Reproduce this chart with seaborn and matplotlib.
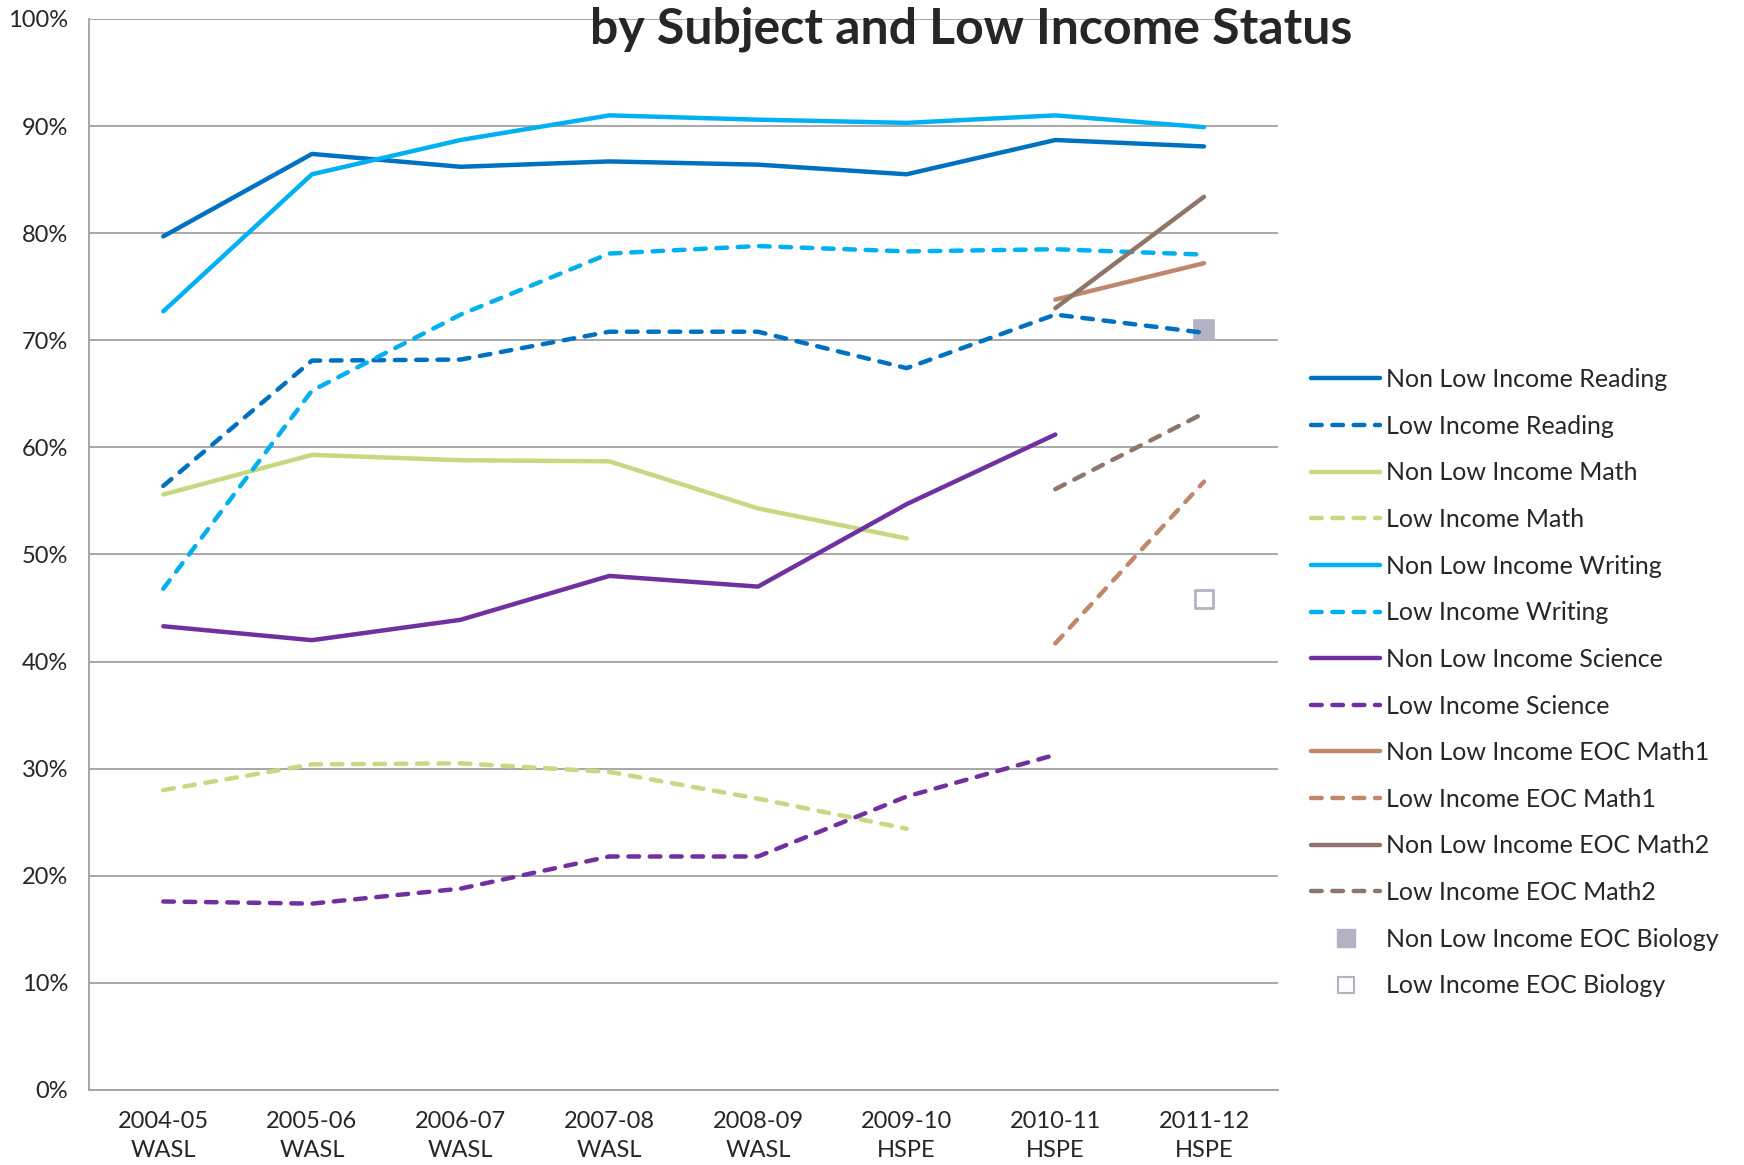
import numpy as np
import pandas as pd
import matplotlib.pyplot as plt
import seaborn as sns
from matplotlib.lines import Line2D

# --- data ---
years = ['2004-05\nWASL', '2005-06\nWASL', '2006-07\nWASL', '2007-08\nWASL',
         '2008-09\nWASL', '2009-10\nHSPE', '2010-11\nHSPE', '2011-12\nHSPE']
nan = np.nan

non_low_reading = [79.7, 87.4, 86.2, 86.7, 86.4, 85.5, 88.7, 88.1]
low_reading = [56.4, 68.1, 68.2, 70.8, 70.8, 67.4, 72.4, 70.7]
non_low_math = [55.6, 59.3, 58.8, 58.7, 54.3, 51.5, nan, nan]
low_math = [28.0, 30.4, 30.5, 29.7, 27.2, 24.4, nan, nan]
non_low_writing = [72.7, 85.5, 88.7, 91.0, 90.6, 90.3, 91.0, 89.9]
low_writing = [46.8, 65.3, 72.4, 78.1, 78.8, 78.3, 78.5, 78.0]
non_low_science = [43.3, 42.0, 43.9, 48.0, 47.0, 54.7, 61.2, nan]
low_science = [17.6, 17.4, 18.8, 21.8, 21.8, 27.4, 31.3, nan]
non_low_eoc_math1 = [nan, nan, nan, nan, nan, nan, 73.8, 77.2]
low_eoc_math1 = [nan, nan, nan, nan, nan, nan, 41.7, 56.8]
non_low_eoc_math2 = [nan, nan, nan, nan, nan, nan, 73.0, 83.4]
low_eoc_math2 = [nan, nan, nan, nan, nan, nan, 56.1, 63.2]
non_low_eoc_biology = [nan, nan, nan, nan, nan, nan, nan, 71.0]
low_eoc_biology = [nan, nan, nan, nan, nan, nan, nan, 45.8]

line_series = [
    ('Non Low Income Reading', non_low_reading, '#0070C0', False),
    ('Low Income Reading', low_reading, '#0070C0', True),
    ('Non Low Income Math', non_low_math, '#C8D782', False),
    ('Low Income Math', low_math, '#C8D782', True),
    ('Non Low Income Writing', non_low_writing, '#00B0F0', False),
    ('Low Income Writing', low_writing, '#00B0F0', True),
    ('Non Low Income Science', non_low_science, '#7030A0', False),
    ('Low Income Science', low_science, '#7030A0', True),
    ('Non Low Income EOC Math1', non_low_eoc_math1, '#C0876C', False),
    ('Low Income EOC Math1', low_eoc_math1, '#C0876C', True),
    ('Non Low Income EOC Math2', non_low_eoc_math2, '#8E766A', False),
    ('Low Income EOC Math2', low_eoc_math2, '#8E766A', True),
]
bio_color = '#B2B2C2'

# --- plot ---
sns.set_theme(style="white")
plt.rcParams['font.family'] = ['Lato', 'DejaVu Sans']

fig = plt.figure(figsize=(17.44, 11.65), dpi=100)
ax = fig.add_axes([0.051, 0.0644, 0.682, 0.9193])

x = np.arange(len(years))
handles = []
for name, vals, color, dashed in line_series:
    df = pd.DataFrame({'x': x, 'y': vals}).dropna()
    ls = (0, (2.4, 2.4)) if dashed else '-'
    sns.lineplot(data=df, x='x', y='y', color=color, linewidth=3.2,
                 linestyle=ls, dash_capstyle='round', ax=ax, legend=False)
    handles.append(Line2D([], [], color=color, lw=3.2, linestyle=ls,
                          dash_capstyle='round', label=name))

bio = pd.DataFrame({'x': x, 'non': non_low_eoc_biology, 'low': low_eoc_biology})
sns.scatterplot(data=bio.dropna(subset=['non']), x='x', y='non', marker='s',
                s=220, color=bio_color, edgecolor=bio_color, ax=ax, legend=False)
sns.scatterplot(data=bio.dropna(subset=['low']), x='x', y='low', marker='s',
                s=160, facecolor='white', edgecolor=bio_color, linewidth=2,
                ax=ax, legend=False)
handles.append(Line2D([], [], marker='s', linestyle='none', markersize=13,
                      color=bio_color, label='Non Low Income EOC Biology'))
handles.append(Line2D([], [], marker='s', linestyle='none', markersize=12,
                      markerfacecolor='white', markeredgecolor=bio_color,
                      markeredgewidth=1.5, label='Low Income EOC Biology'))

ax.set_xlim(-0.5, len(years) - 0.5)
ax.set_ylim(0, 100)
ax.set_xticks(x)
ax.set_xticklabels(years, fontsize=17, linespacing=1.5)
ax.set_yticks(range(0, 101, 10))
ax.set_yticklabels([f'{v}%' for v in range(0, 101, 10)], fontsize=17)
ax.tick_params(axis='x', length=0, pad=15)
ax.tick_params(axis='y', length=0, pad=15)
ax.yaxis.grid(True, color='#A0A0A0', linewidth=1.3)
ax.set_axisbelow(True)
ax.set_xlabel('')
ax.set_ylabel('')
for side in ['top', 'right']:
    ax.spines[side].set_visible(False)
for side in ['left', 'bottom']:
    ax.spines[side].set_color('#A0A0A0')
    ax.spines[side].set_linewidth(1.3)

fig.text(0.557, 0.963, 'by Subject and Low Income Status', ha='center',
         va='baseline', fontsize=36, fontweight='bold')

fig.legend(handles=handles, loc='upper left', bbox_to_anchor=(0.752, 0.684),
           frameon=False, fontsize=18, handlelength=2.75, handletextpad=0.25,
           labelspacing=0.945, borderpad=0, borderaxespad=0)

fig.savefig('out.png', dpi=100)
